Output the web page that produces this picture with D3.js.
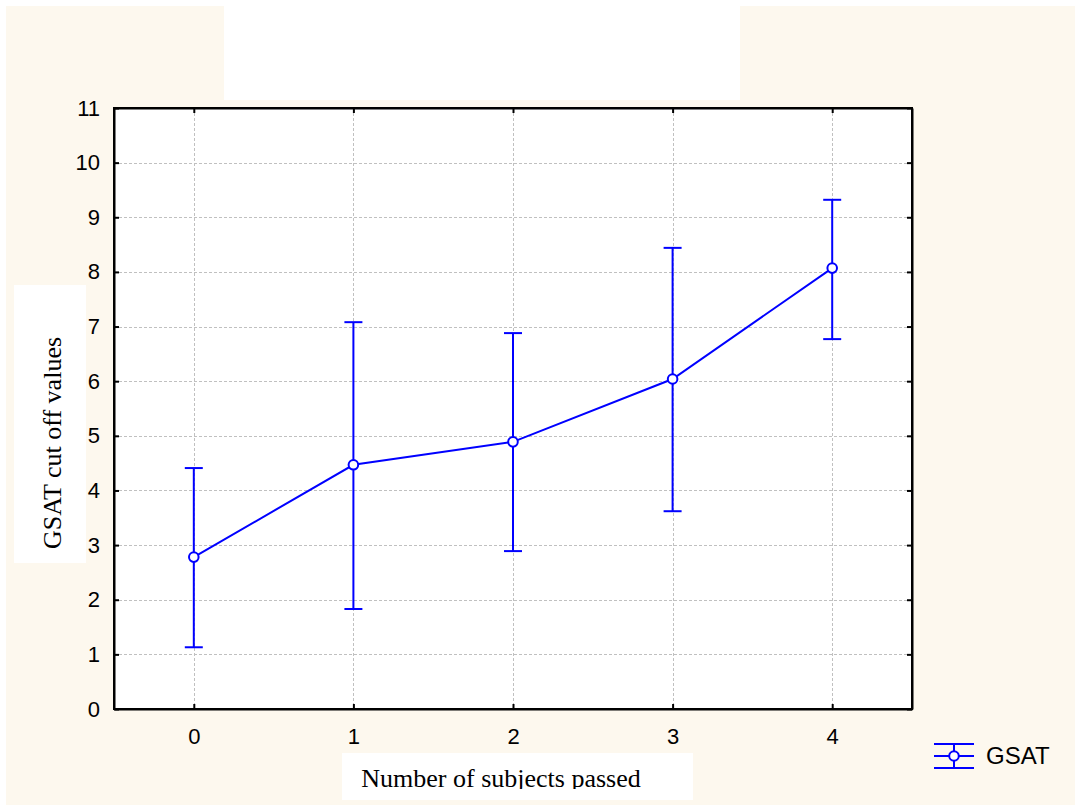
<!DOCTYPE html>
<html>
<head>
<meta charset="utf-8">
<script src="https://cdn.jsdelivr.net/npm/d3@7"></script>
<style>
  body { margin: 0; background: #fff; }
  svg { display: block; }
</style>
</head>
<body>
<svg></svg>
<script>
const size = { w: 1075, h: 806 };
const plot = { l: 114, t: 108, r: 912, b: 709 };

// data
const categories = [0, 1, 2, 3, 4];
const means = [2.78, 4.47, 4.89, 6.04, 8.07];
const upper = [4.41, 7.08, 6.88, 8.44, 9.32];
const lower = [1.13, 1.83, 2.89, 3.62, 6.77];
const yTicks = [0, 1, 2, 3, 4, 5, 6, 7, 8, 9, 10, 11];
const seriesName = "GSAT";

const blue = "#0000ff";
const cream = "#fdf8ee";

const svg = d3.select("svg").attr("width", size.w).attr("height", size.h);

// background panels
svg.append("rect").attr("x", 6).attr("y", 6).attr("width", size.w - 6).attr("height", 799).attr("fill", cream);
svg.append("rect").attr("x", 224).attr("y", 0).attr("width", 516).attr("height", 100).attr("fill", "#fff");
svg.append("rect").attr("x", plot.l).attr("y", plot.t).attr("width", plot.r - plot.l).attr("height", plot.b - plot.t).attr("fill", "#fff");
svg.append("rect").attr("x", 14).attr("y", 285).attr("width", 72).attr("height", 278).attr("fill", "#fff");
svg.append("rect").attr("x", 342).attr("y", 753).attr("width", 351).attr("height", 47).attr("fill", "#fff");

const x = d3.scaleLinear().domain([-0.5, 4.5]).range([plot.l, plot.r]);
const y = d3.scaleLinear().domain([0, 11]).range([plot.b, plot.t]);

// grid
const grid = svg.append("g").attr("stroke", "#c0c0c0").attr("stroke-width", 1).attr("stroke-dasharray", "3,2");
grid.selectAll("line.h").data(yTicks.slice(1, -1)).enter().append("line")
  .attr("x1", plot.l).attr("x2", plot.r)
  .attr("y1", d => Math.round(y(d)) + 0.5).attr("y2", d => Math.round(y(d)) + 0.5);
grid.selectAll("line.v").data(categories).enter().append("line")
  .attr("y1", plot.t).attr("y2", plot.b)
  .attr("x1", d => Math.round(x(d)) + 0.5).attr("x2", d => Math.round(x(d)) + 0.5);

// axes with inward ticks
const axisG = svg.append("g");
const leftAxis = axisG.append("g").attr("transform", `translate(${plot.l},0)`)
  .call(d3.axisLeft(y).tickValues(yTicks).tickSizeInner(-5).tickSizeOuter(0).tickPadding(14).tickFormat(d3.format("d")));
const rightAxis = axisG.append("g").attr("transform", `translate(${plot.r},0)`)
  .call(d3.axisRight(y).tickValues(yTicks).tickSizeInner(-5).tickSizeOuter(0).tickFormat(""));
const bottomAxis = axisG.append("g").attr("transform", `translate(0,${plot.b})`)
  .call(d3.axisBottom(x).tickValues(categories).tickSizeInner(-5).tickSizeOuter(0).tickPadding(19).tickFormat(d3.format("d")));
const topAxis = axisG.append("g").attr("transform", `translate(0,${plot.t})`)
  .call(d3.axisTop(x).tickValues(categories).tickSizeInner(-5).tickSizeOuter(0).tickFormat(""));

axisG.selectAll(".domain").attr("stroke", "#000").attr("stroke-width", 2);
axisG.selectAll(".tick line").attr("stroke", "#000").attr("stroke-width", 2);
axisG.selectAll(".tick text")
  .style("font-family", "'Liberation Sans', Arial, sans-serif")
  .style("font-size", "22px").attr("fill", "#000");

// frame corners
svg.append("rect").attr("x", plot.l).attr("y", plot.t).attr("width", plot.r - plot.l).attr("height", plot.b - plot.t)
  .attr("fill", "none").attr("stroke", "#000").attr("stroke-width", 2);

// error bars
const data = categories.map((c, i) => ({ c, m: means[i], hi: upper[i], lo: lower[i] }));
const bars = svg.append("g").attr("stroke", blue).attr("stroke-width", 2).attr("fill", "none");
bars.selectAll("line.v").data(data).enter().append("line")
  .attr("x1", d => x(d.c)).attr("x2", d => x(d.c))
  .attr("y1", d => y(d.hi)).attr("y2", d => y(d.lo));
bars.selectAll("line.capH").data(data).enter().append("line")
  .attr("x1", d => x(d.c) - 9).attr("x2", d => x(d.c) + 9)
  .attr("y1", d => y(d.hi)).attr("y2", d => y(d.hi));
bars.selectAll("line.capL").data(data).enter().append("line")
  .attr("x1", d => x(d.c) - 9).attr("x2", d => x(d.c) + 9)
  .attr("y1", d => y(d.lo)).attr("y2", d => y(d.lo));

// mean line and points
const line = d3.line().x(d => x(d.c)).y(d => y(d.m));
svg.append("path").datum(data).attr("d", line)
  .attr("fill", "none").attr("stroke", blue).attr("stroke-width", 2);
svg.selectAll("circle.pt").data(data).enter().append("circle")
  .attr("cx", d => x(d.c)).attr("cy", d => y(d.m)).attr("r", 4.8)
  .attr("fill", "#fff").attr("stroke", blue).attr("stroke-width", 2);

// axis titles
svg.append("text")
  .attr("transform", `translate(61,${443}) rotate(-90)`)
  .attr("text-anchor", "middle")
  .style("font-family", "'Liberation Serif', 'Times New Roman', serif")
  .style("font-size", "26px").attr("fill", "#000")
  .text("GSAT cut off values");

svg.append("defs").append("clipPath").attr("id", "xclip")
  .append("rect").attr("x", 342).attr("y", 753).attr("width", 351).attr("height", 36);
svg.append("text")
  .attr("x", 501).attr("y", 787)
  .attr("text-anchor", "middle")
  .attr("clip-path", "url(#xclip)")
  .style("font-family", "'Liberation Serif', 'Times New Roman', serif")
  .style("font-size", "26px").attr("fill", "#000")
  .text("Number of subjects passed");

// legend
const lg = svg.append("g").attr("transform", "translate(954,756)");
lg.append("line").attr("x1", -20).attr("x2", 20).attr("y1", -12).attr("y2", -12).attr("stroke", blue).attr("stroke-width", 2);
lg.append("line").attr("x1", -20).attr("x2", 20).attr("y1", 0).attr("y2", 0).attr("stroke", blue).attr("stroke-width", 2);
lg.append("line").attr("x1", -20).attr("x2", 20).attr("y1", 12).attr("y2", 12).attr("stroke", blue).attr("stroke-width", 2);
lg.append("line").attr("x1", 0).attr("x2", 0).attr("y1", -12).attr("y2", 12).attr("stroke", blue).attr("stroke-width", 2);
lg.append("circle").attr("r", 4.8).attr("fill", "#fff").attr("stroke", blue).attr("stroke-width", 2);
lg.append("text").attr("x", 32).attr("y", 8)
  .style("font-family", "'Liberation Sans', Arial, sans-serif")
  .style("font-size", "24px").attr("fill", "#000")
  .text(seriesName);
</script>
</body>
</html>
